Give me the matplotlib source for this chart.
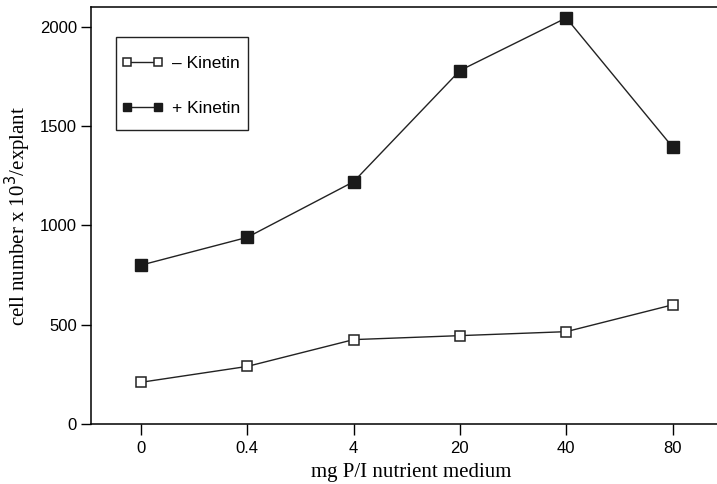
import matplotlib.pyplot as plt
from matplotlib.patches import Rectangle

# Werte
medium = ["0", "0.4", "4", "20", "40", "80"]
ohne_kinetin = [210, 290, 425, 445, 465, 600]
mit_kinetin = [800, 940, 1220, 1780, 2045, 1395]

plt.rcParams['font.family'] = ['Liberation Sans', 'DejaVu Sans']

fig = plt.figure(figsize=(7.17, 4.84), dpi=100)
ax = fig.add_axes([91 / 717, 1 - 424 / 484, 640 / 717, 417 / 484])

x = list(range(len(medium)))
ax.plot(x, ohne_kinetin, color='#222222', lw=1.0, marker='s', ms=7.8,
        mfc='white', mec='#222222', mew=1.1, label='– Kinetin')
ax.plot(x, mit_kinetin, color='#222222', lw=1.0, marker='s', ms=8,
        mfc='#1a1a1a', mec='#1a1a1a', label='+ Kinetin')

ax.set_xlim(-0.47, 5.55)
ax.set_ylim(0, 2100)
ax.set_xticks(x)
ax.set_xticklabels(medium)
ax.set_yticks([0, 500, 1000, 1500, 2000])
ax.tick_params(axis='x', length=8, width=1, labelsize=12, pad=4)
ax.tick_params(axis='y', length=7, width=1, labelsize=12, pad=3)
for s in ax.spines.values():
    s.set_linewidth(1.1)
ax.spines['right'].set_visible(False)

ax.set_xlabel("mg P/I nutrient medium", family=['Liberation Serif'], fontsize=15, labelpad=5)
ax.set_ylabel("cell number x 10$^3$/explant", family=['Liberation Serif'], fontsize=15, labelpad=5)

# Legende ohne eigenen Rahmen, Rahmen separat (mehr Luft oben/unten)
leg = ax.legend(loc='upper left', bbox_to_anchor=(0.048, 0.883), numpoints=2,
                fontsize=12.5, frameon=False, handlelength=2.38, handletextpad=0.5,
                labelspacing=1.72, borderpad=0, borderaxespad=0, markerscale=0.7)
ax.add_patch(Rectangle((0.039, 0.705), 0.206, 0.223, transform=ax.transAxes,
                       fill=False, edgecolor='#222222', lw=1.0, zorder=5))

plt.savefig("out.png", dpi=100)
